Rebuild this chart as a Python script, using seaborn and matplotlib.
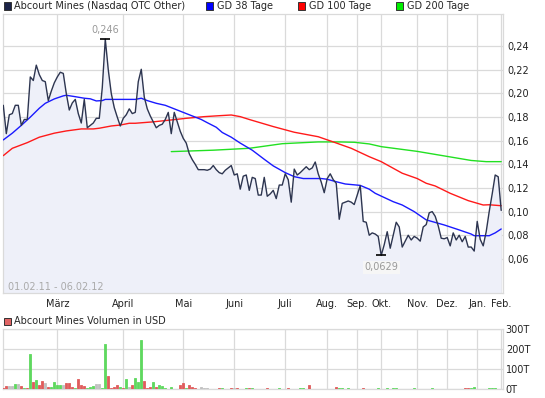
import numpy as np
import pandas as pd
import seaborn as sns
import matplotlib.pyplot as plt
from matplotlib.patches import Rectangle
from matplotlib.ticker import FuncFormatter

# closing prices, one per trading session (01.02.11 - 06.02.12)
price = [0.190, 0.166, 0.182, 0.183, 0.190, 0.190, 0.173, 0.178, 0.178, 0.214,
         0.211, 0.224, 0.216, 0.211, 0.210, 0.194, 0.202, 0.209, 0.214, 0.218,
         0.217, 0.200, 0.186, 0.192, 0.195, 0.183, 0.175, 0.195, 0.171, 0.173,
         0.175, 0.179, 0.179, 0.205, 0.246, 0.220, 0.200, 0.188, 0.180, 0.1725,
         0.179, 0.182, 0.187, 0.183, 0.184, 0.210, 0.2205, 0.197, 0.187, 0.181,
         0.176, 0.171, 0.173, 0.174, 0.178, 0.184, 0.166, 0.184, 0.176, 0.168,
         0.162, 0.158, 0.149, 0.144, 0.140, 0.1355, 0.1355, 0.1355, 0.135, 0.136,
         0.139, 0.1355, 0.133, 0.132, 0.135, 0.137, 0.139, 0.131, 0.132, 0.119,
         0.130, 0.131, 0.118, 0.129, 0.128, 0.114, 0.114, 0.129, 0.113, 0.115,
         0.118, 0.111, 0.1225, 0.1225, 0.132, 0.127, 0.108, 0.136, 0.131, 0.133,
         0.1355, 0.138, 0.1355, 0.137, 0.142, 0.132, 0.125, 0.116, 0.128, 0.132,
         0.127, 0.124, 0.0935, 0.107, 0.108, 0.109, 0.108, 0.106, 0.114, 0.122,
         0.0917, 0.091, 0.080, 0.082, 0.081, 0.079, 0.0629, 0.072, 0.083, 0.069,
         0.080, 0.091, 0.087, 0.070, 0.075, 0.080, 0.076, 0.079, 0.0775, 0.075,
         0.087, 0.089, 0.099, 0.100, 0.096, 0.088, 0.0775, 0.077, 0.078, 0.071,
         0.082, 0.076, 0.080, 0.0745, 0.079, 0.070, 0.070, 0.0666, 0.0917, 0.0765,
         0.071, 0.083, 0.100, 0.115, 0.131, 0.1295, 0.101]

# moving averages (session, value)
gd38_x = [0, 3, 6, 9, 12, 14, 17, 20, 21, 24, 27, 29, 31, 33, 34, 38, 44, 46, 48, 51,
          54, 57, 60, 63, 66, 68, 71, 73, 76, 79, 83, 87, 90, 94, 97, 100, 106, 108,
          111, 114, 119, 122, 124, 130, 133, 137, 141, 147, 152, 156, 157, 162, 164, 166]
gd38 = [0.1607, 0.1664, 0.173, 0.180, 0.1875, 0.1917, 0.1954, 0.198, 0.1985, 0.1973,
        0.196, 0.1955, 0.1937, 0.194, 0.195, 0.195, 0.195, 0.196, 0.194, 0.1917,
        0.190, 0.187, 0.184, 0.181, 0.178, 0.1753, 0.1714, 0.167, 0.163, 0.158,
        0.152, 0.1443, 0.1387, 0.133, 0.1296, 0.128, 0.128, 0.1274, 0.1253, 0.1234,
        0.1222, 0.119, 0.1155, 0.1084, 0.1056, 0.100, 0.093, 0.0887, 0.0845, 0.081,
        0.0796, 0.0796, 0.082, 0.0853]

gd100_x = [0, 3, 8, 12, 17, 21, 26, 30, 32, 36, 39, 42, 44, 50, 56, 61, 67, 72, 76,
           79, 82, 90, 97, 105, 110, 116, 122, 126, 133, 138, 141, 144, 149, 155, 160,
           162, 166]
gd100 = [0.1474, 0.1536, 0.1584, 0.163, 0.1664, 0.1683, 0.170, 0.170, 0.1706, 0.1725,
         0.1733, 0.1748, 0.1748, 0.176, 0.1776, 0.179, 0.1804, 0.1812, 0.1818, 0.1804,
         0.178, 0.172, 0.1672, 0.1634, 0.159, 0.1536, 0.1465, 0.1423, 0.1325, 0.128,
         0.124, 0.1217, 0.1155, 0.1093, 0.1056, 0.1058, 0.105]

gd200_x = [56, 70, 82, 93, 105, 112, 117, 122, 126, 138, 149, 156, 161, 166]
gd200 = [0.1508, 0.152, 0.1536, 0.1575, 0.159, 0.159, 0.1587, 0.1573, 0.155, 0.151,
         0.1463, 0.1433, 0.1423, 0.1423]

# volume in thousand USD, sessions without trades left out
vol_x = [0, 1, 2, 3, 4, 5, 6, 7, 8, 9, 10, 11, 12, 13, 14, 15, 16, 17, 18, 19,
         20, 21, 22, 23, 24, 25, 26, 27, 28, 29, 30, 31, 32, 33, 34, 35, 36, 37, 38, 39,
         40, 41, 42, 43, 44, 45, 46, 47, 48, 49, 50, 51, 52, 53, 54, 56, 59, 60, 61, 62,
         63, 64, 66, 67, 68, 72, 73, 76, 77, 78, 81, 82, 83, 88, 92, 95, 99, 100, 102, 111,
         112, 113, 115, 120, 125, 128, 130, 131, 137, 143, 154, 155, 156, 157, 162, 163, 164]
vol = [7, 15, 15, 15, 25, 25, 15, 5, 5, 175, 35, 45, 20, 40, 30, 10, 10, 35, 20, 20,
       20, 30, 30, 10, 5, 50, 20, 15, 5, 10, 15, 25, 25, 5, 225, 65, 5, 10, 20, 10,
       5, 50, 10, 20, 55, 35, 245, 40, 5, 10, 35, 10, 20, 15, 5, 10, 20, 32, 7, 20,
       12, 7, 10, 5, 5, 4, 4, 4, 4, 4, 4, 4, 4, 4, 4, 4, 4, 4, 20, 10,
       4, 4, 4, 4, 4, 4, 4, 4, 4, 4, 4, 4, 4, 10, 4, 4, 4]
vol_dir = ['d', 'd', 'n', 'n', 'u', 'n', 'd', 'u', 'd', 'u', 'd', 'u', 'd', 'd', 'n', 'd', 'u', 'u', 'u', 'u',
           'n', 'd', 'd', 'd', 'u', 'd', 'd', 'd', 'u', 'u', 'u', 'n', 'n', 'u', 'u', 'd', 'd', 'd', 'd', 'u',
           'd', 'u', 'n', 'd', 'u', 'u', 'u', 'd', 'd', 'd', 'u', 'd', 'u', 'u', 'u', 'u', 'd', 'd', 'u', 'd',
           'd', 'd', 'n', 'n', 'n', 'd', 'u', 'd', 'n', 'd', 'u', 'd', 'u', 'd', 'u', 'd', 'u', 'u', 'd', 'd',
           'u', 'u', 'u', 'd', 'u', 'u', 'u', 'u', 'u', 'u', 'd', 'd', 'u', 'u', 'u', 'u', 'u']

month_pos = [18, 40, 60, 77, 94, 108, 118, 126, 138, 148, 158, 166]
month_labels = ['März', 'April', 'Mai', 'Juni', 'Juli', 'Aug.', 'Sep.', 'Okt.',
                'Nov.', 'Dez.', 'Jan.', 'Feb.']
price_ticks = [0.06, 0.08, 0.10, 0.12, 0.14, 0.16, 0.18, 0.20, 0.22, 0.24]
vol_ticks = [0, 100, 200, 300]
date_range = '01.02.11 - 06.02.12'

sns.set_style('white')
plt.rcParams['font.family'] = ['DejaVu Sans']

GRID = '#dadada'
FS = 7
df = pd.DataFrame({'session': np.arange(len(price)), 'price': price})

fig = plt.figure(figsize=(5.45, 3.98), dpi=100)
ax = fig.add_axes([3 / 545, 1 - 293 / 398, 500 / 545, 279 / 398])
axv = fig.add_axes([3 / 545, 1 - 389 / 398, 500 / 545, 60 / 398])

xlim = (-0.1, 166.6)
ylim = (0.0311, 0.2673)

# price panel
ax.fill_between(df['session'], df['price'], ylim[0], color='#eef0f9', lw=0, zorder=1)
sns.lineplot(x=gd200_x, y=gd200, ax=ax, color='#22e022', lw=1.0, zorder=3)
sns.lineplot(x=gd100_x, y=gd100, ax=ax, color='#ff1a1a', lw=1.0, zorder=3)
sns.lineplot(x=gd38_x, y=gd38, ax=ax, color='#1a1aff', lw=1.0, zorder=3)
sns.lineplot(data=df, x='session', y='price', ax=ax, color='#2d3550', lw=1.0, zorder=4)

imax = int(np.argmax(price))
imin = int(np.argmin(price))
ax.hlines(price[imax], imax - 1.6, imax + 1.6, color='black', lw=1.2, zorder=5)
ax.hlines(price[imin], imin - 1.6, imin + 1.6, color='black', lw=1.2, zorder=5)
ax.annotate(f'{price[imax]:.3f}'.replace('.', ','), xy=(imax, price[imax]), xytext=(0, 3),
            textcoords='offset points', ha='center', va='bottom', fontsize=FS, color='#999999')
ax.annotate(f'{price[imin]:.4f}'.replace('.', ','), xy=(imin, price[imin]), xytext=(0, -5),
            textcoords='offset points', ha='center', va='top', fontsize=FS, color='#999999',
            bbox=dict(boxstyle='square,pad=0.15', fc='#f6f6f6', ec='none'), zorder=6)
ax.text(0.009, 0.023, date_range, transform=ax.transAxes, fontsize=FS, color='#aaaaaa',
        ha='left', va='center')

ax.set_xlim(xlim)
ax.set_ylim(ylim)
ax.set_yticks(price_ticks)
ax.yaxis.set_major_formatter(FuncFormatter(lambda v, p: f'{v:.2f}'.replace('.', ',')))
ax.yaxis.tick_right()
ax.set_xticks(month_pos)
ax.set_xticklabels(month_labels)
ax.tick_params(length=0, labelsize=FS, colors='#222222')
ax.tick_params(axis='y', pad=3)
ax.tick_params(axis='x', pad=4)
ax.set_xlabel('')
ax.set_ylabel('')
ax.grid(True, color=GRID, lw=0.9)
ax.set_axisbelow(True)

# volume panel
dir_colors = {'u': '#5fd85f', 'd': '#e05c5c', 'n': '#c0c0c0'}
bar_cols = [dir_colors[d] for d in vol_dir]
axv.bar(vol_x, vol, width=0.6, color=bar_cols, edgecolor=bar_cols, linewidth=0.6,
        zorder=3)
axv.set_xlim(xlim)
axv.set_ylim(0, 300)
axv.set_yticks(vol_ticks)
axv.set_yticklabels([f'{v}T' for v in vol_ticks])
axv.yaxis.tick_right()
axv.set_xticks(month_pos)
axv.set_xticklabels([])
axv.tick_params(length=0, labelsize=FS, colors='#222222')
axv.tick_params(axis='y', pad=2)
axv.grid(True, color=GRID, lw=0.9)
axv.set_axisbelow(True)

for a in (ax, axv):
    for s in a.spines.values():
        s.set_color(GRID)
        s.set_linewidth(0.9)

# legends drawn as boxes + text
legend = [('Abcourt Mines (Nasdaq OTC Other)', '#1c2448', 3.5),
          ('GD 38 Tage', '#0000ff', 206),
          ('GD 100 Tage', '#ff0000', 298),
          ('GD 200 Tage', '#00ee00', 396)]
for label, col, xp in legend:
    fig.patches.append(Rectangle((xp / 545, 1 - 9.5 / 398), 7 / 545, 7 / 398,
                                 transform=fig.transFigure, fc=col, ec='#333333', lw=0.7))
    fig.text((xp + 11) / 545, 1 - 6 / 398, label, fontsize=FS, va='center', ha='left')

fig.patches.append(Rectangle((3.5 / 545, 1 - 324.5 / 398), 7 / 545, 7 / 398,
                             transform=fig.transFigure, fc='#e06464', ec='#333333', lw=0.7))
fig.text(14.5 / 545, 1 - 321 / 398, 'Abcourt Mines Volumen in USD', fontsize=FS,
         va='center', ha='left')

fig.savefig('out.png', dpi=100)
